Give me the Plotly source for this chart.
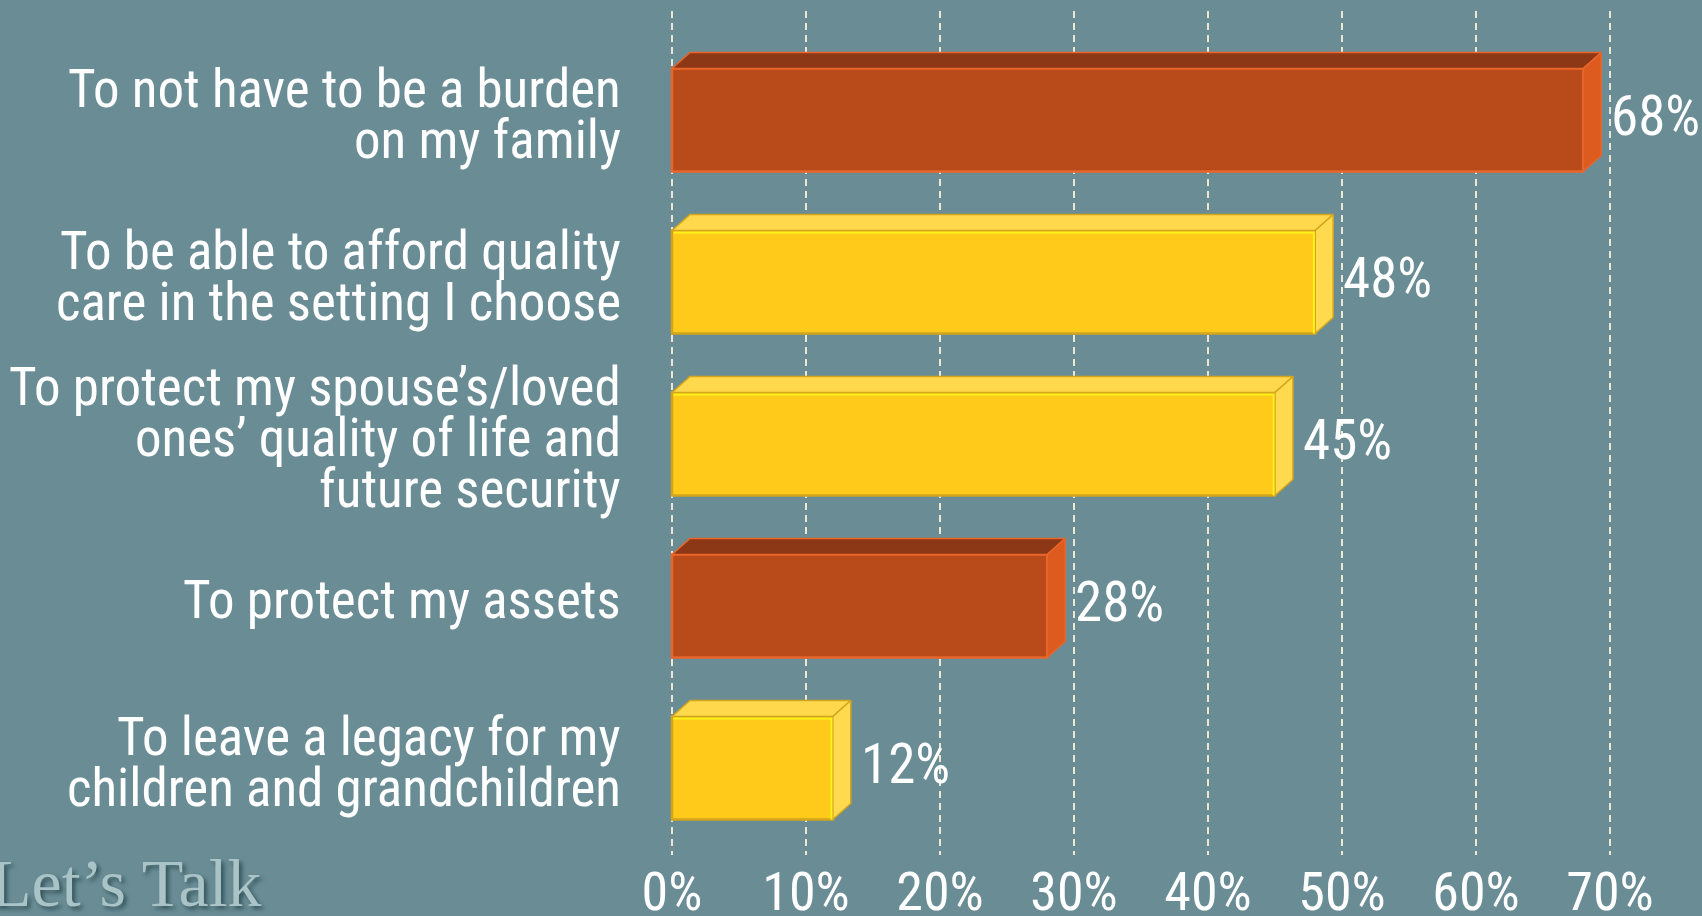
import plotly.graph_objects as go

# ---------------- data ----------------
category_lines = [
    ["To not have to be a burden", "on my family"],
    ["To be able to afford quality", "care in the setting I choose"],
    ["To protect my spouse’s/loved", "ones’ quality of life and", "future security"],
    ["To protect my assets"],
    ["To leave a legacy for my", "children and grandchildren"],
]
values = [68, 48, 45, 28, 12]
value_labels = ["68%", "48%", "45%", "28%", "12%"]
bar_tones = ["orange", "yellow", "yellow", "orange", "yellow"]
tick_values = [0, 10, 20, 30, 40, 50, 60, 70]
tick_labels = ["0%", "10%", "20%", "30%", "40%", "50%", "60%", "70%"]
logo_text = "Let’s Talk"

# ---------------- style ----------------
BG = "#6a8d95"
FONT = "Roboto Condensed, Liberation Sans Narrow, sans-serif"
PAL = {
    "orange": dict(front="#B94A1A", top="#8C3816", side="#DE5B1F", edge="#E8662B"),
    "yellow": dict(front="#FFCA1A", top="#FFD84C", side="#FFDA4E", edge="#D2A51D"),
}
BAR_H = 0.636   # bar thickness in category units
DX = 1.343      # 3D depth, x units
DY = 0.099      # 3D depth, y units

n = len(values)
ypos = [n - 1 - i for i in range(n)]

fig = go.Figure()

# 3D faces (top and side) built from the data values
for tone in ["orange", "yellow"]:
    tx, ty, sx, sy = [], [], [], []
    for v, yc, t in zip(values, ypos, bar_tones):
        if t != tone:
            continue
        top = yc + BAR_H / 2
        bot = yc - BAR_H / 2
        tx += [0, v, v + DX, DX, 0, None]
        ty += [top, top, top + DY, top + DY, top, None]
        sx += [v, v + DX, v + DX, v, v, None]
        sy += [bot, bot + DY, top + DY, top, bot, None]
    fig.add_trace(go.Scatter(x=tx, y=ty, mode="lines", fill="toself",
                             fillcolor=PAL[tone]["top"],
                             line=dict(color=PAL[tone]["edge"], width=1.5),
                             hoverinfo="skip", showlegend=False))
    fig.add_trace(go.Scatter(x=sx, y=sy, mode="lines", fill="toself",
                             fillcolor=PAL[tone]["side"],
                             line=dict(color=PAL[tone]["edge"], width=1.5),
                             hoverinfo="skip", showlegend=False))

# front faces
fig.add_trace(go.Bar(
    x=values, y=ypos, orientation="h", width=BAR_H,
    marker=dict(color=[PAL[t]["front"] for t in bar_tones],
                line=dict(color=[PAL[t]["edge"] for t in bar_tones], width=2.5)),
    hoverinfo="skip", showlegend=False,
))

# bright highlight along top/right edge of yellow bars
hx, hy = [], []
for v, yc, t in zip(values, ypos, bar_tones):
    if t == "yellow":
        top = yc + BAR_H / 2 - 0.012
        bot = yc - BAR_H / 2
        hx += [0.1, v - 0.1, v - 0.1, None]
        hy += [top, top, bot, None]
fig.add_trace(go.Scatter(x=hx, y=hy, mode="lines",
                         line=dict(color="#FFF21A", width=2),
                         hoverinfo="skip", showlegend=False))

annotations = []
# value labels
for v, yc, lab in zip(values, ypos, value_labels):
    annotations.append(dict(x=v + DX, y=yc, xref="x", yref="y",
                            text=lab, showarrow=False, xanchor="left",
                            yanchor="middle", xshift=8, yshift=4,
                            font=dict(family=FONT, size=55, color="white")))
# category labels (one annotation per line for tight leading)
LINE_PX = 51
for lines, yc in zip(category_lines, ypos):
    k = len(lines)
    for j, line in enumerate(lines):
        annotations.append(dict(x=0, y=yc, xref="paper", yref="y", text=line,
                                showarrow=False, xanchor="right", yanchor="middle",
                                xshift=-17, yshift=((k - 1) / 2 - j) * LINE_PX + 6,
                                font=dict(family=FONT, size=53, color="white")))
# logo
annotations.append(dict(x=0, y=0, xref="paper", yref="paper", text=logo_text,
                        showarrow=False, xanchor="left", yanchor="top",
                        xshift=-652, yshift=12,
                        font=dict(family="Liberation Serif, Times New Roman, serif",
                                  size=68, color="#a9c3c6",
                                  shadow="3px 3px 4px #34545b")))

fig.update_layout(
    width=1702, height=916,
    margin=dict(l=640, r=30, t=11, b=61),
    paper_bgcolor=BG, plot_bgcolor=BG,
    showlegend=False,
    annotations=annotations,
    xaxis=dict(range=[-2.388, 74.627], tickvals=tick_values, ticktext=tick_labels,
               showgrid=True, gridcolor="#ECE7D4", gridwidth=2, griddash="7px,5px",
               zeroline=False, showline=False, ticks="", automargin=False,
               ticklabelstandoff=0,
               tickfont=dict(family=FONT, size=54, color="white")),
    yaxis=dict(range=[-0.537, 4.673], showgrid=False, zeroline=False,
               showticklabels=False, showline=False, ticks="", automargin=False),
)

fig.write_html("out.html", config={"displayModeBar": False},
               post_script="document.body.style.margin='0';")
